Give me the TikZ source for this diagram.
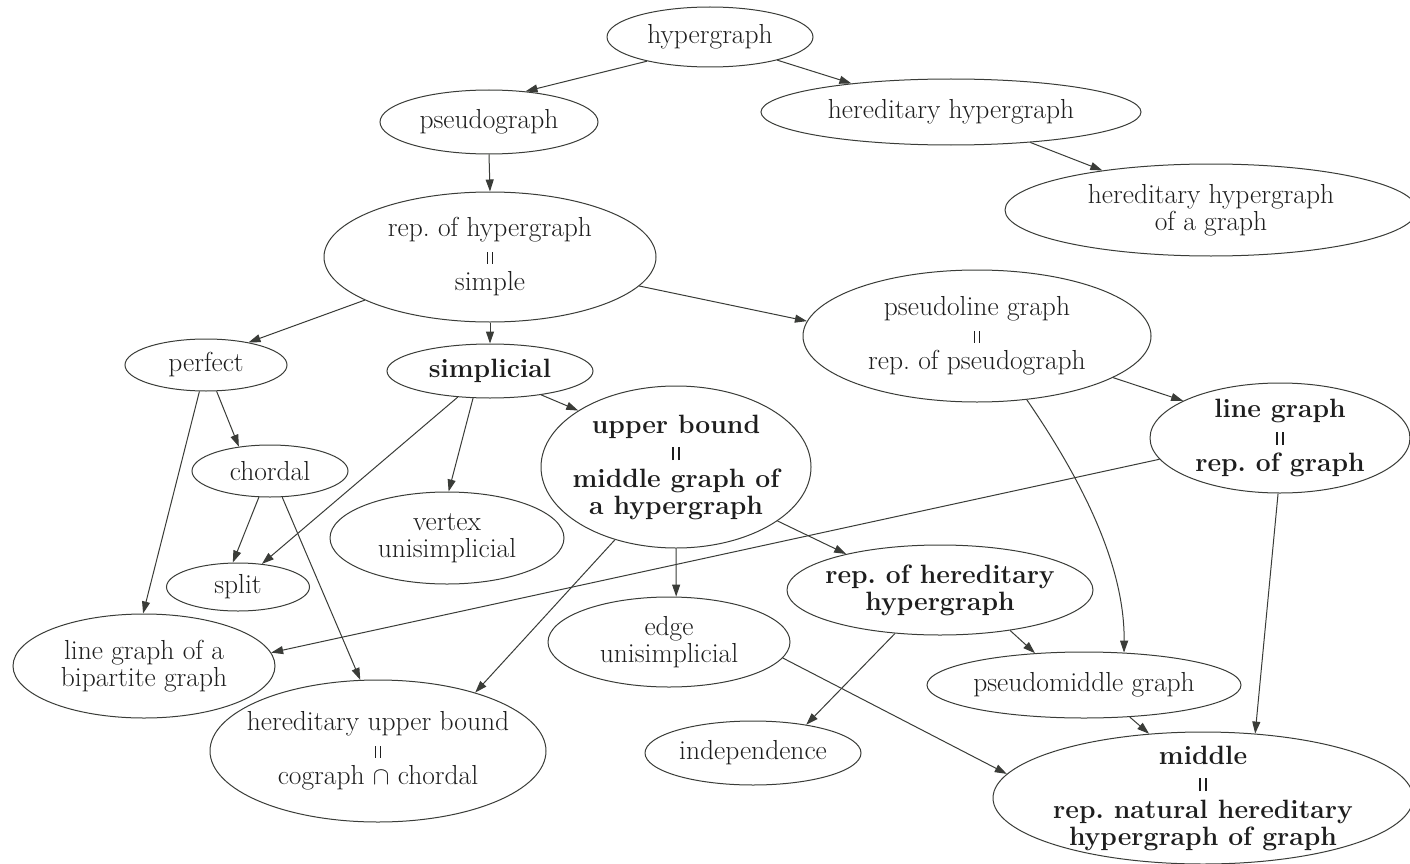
\documentclass[tikz,border=0pt]{standalone}
\usepackage{fontspec}
\usetikzlibrary{shapes.geometric,arrows.meta}
\definecolor{edgec}{HTML}{3A3C38}
\definecolor{textc}{HTML}{1E1E1E}
\newcommand{\veq}{\rule{1.2pt}{12pt}\hspace{4pt}\rule{1.2pt}{12pt}}
\newcommand{\veqb}{\rule{2.6pt}{13pt}\hspace{3.5pt}\rule{2.6pt}{13pt}}
\frenchspacing
\tikzset{
  shp/.style={ellipse, draw=edgec, line width=1pt, inner sep=0pt},
  txt/.style={align=center, text=textc, inner sep=0pt, font=\fontsize{27.5}{27}\selectfont},
  txtb/.style={align=center, text=textc, inner sep=0pt, font=\fontsize{26.5}{27}\selectfont\bfseries},
  rg/.style={label={[txt]center:{#1}}},
  bd/.style={label={[txtb]center:{#1}}},
  e/.style={draw=edgec, line width=1pt, -{Triangle[length=12pt,width=8pt]}}
}
\begin{document}
\begin{tikzpicture}[x=1pt,y=-1pt]
\clip (0,0) rectangle (1410,864);
\fill[white] (0,0) rectangle (1410,864);
% nodes
\node[shp, minimum width=206pt, minimum height=60pt, rg={hypergraph}] (hyper) at (710,37) {};
\node[shp, minimum width=380pt, minimum height=66pt, rg={hereditary hypergraph}] (hh) at (951,112) {};
\node[shp, minimum width=218pt, minimum height=64pt, rg={pseudograph}] (pseudo) at (489,122) {};
\node[shp, minimum width=412pt, minimum height=92pt, rg={hereditary hypergraph\\of a graph}] (hhg) at (1211,210) {};
\node[shp, minimum width=332pt, minimum height=130pt, rg={rep. of hypergraph\\\veq\\simple}] (rep) at (490,257) {};
\node[shp, minimum width=162pt, minimum height=52pt, rg={perfect}] (perfect) at (206,365) {};
\node[shp, minimum width=206pt, minimum height=54pt, bd={simplicial}] (simp) at (490,371) {};
\node[shp, minimum width=348pt, minimum height=132pt, rg={pseudoline graph\\\veq\\rep. of pseudograph}] (pl) at (977,336) {};
\node[shp, minimum width=156pt, minimum height=52pt, rg={chordal}] (chordal) at (270,471) {};
\node[shp, minimum width=270pt, minimum height=162pt, bd={upper bound\\\veqb\\middle graph of\\a hypergraph}] (ub) at (676,467) {};
\node[shp, minimum width=260pt, minimum height=110pt, bd={line graph\\\veqb\\rep. of graph}] (lg) at (1280,438) {};
\node[shp, minimum width=234pt, minimum height=92pt, rg={vertex\\unisimplicial}] (vu) at (447,538) {};
\node[shp, minimum width=143pt, minimum height=48pt, rg={split}] (split) at (238,587) {};
\node[shp, minimum width=306pt, minimum height=90pt, bd={rep. of hereditary\\hypergraph}] (rh) at (940,590) {};
\node[shp, minimum width=242pt, minimum height=90pt, rg={edge\\unisimplicial}] (eu) at (669,642) {};
\node[shp, minimum width=262pt, minimum height=104pt, rg={line graph of a\\bipartite graph}] (lgb) at (144,666) {};
\node[shp, minimum width=314pt, minimum height=66pt, rg={pseudomiddle graph}] (pm) at (1084,685) {};
\node[shp, minimum width=336pt, minimum height=142pt, rg={hereditary upper bound\\\veq\\cograph $\cap$ chordal}] (hub) at (378,751) {};
\node[shp, minimum width=216pt, minimum height=64pt, rg={independence}] (ind) at (753,753) {};
\node[shp, minimum width=420pt, minimum height=132pt, bd={middle\\\veqb\\rep. natural hereditary\\hypergraph of graph}] (mid) at (1203,798) {};
% edges
\draw[e] (hyper.201) -- (pseudo.40);
\draw[e] (hyper.341) -- (hh.164.5);
\draw[e] (hh.-21.4) -- (hhg.160.6);
\draw[e] (pseudo.-90) -- (rep.90);
\draw[e] (rep.199.5) -- (perfect.28);
\draw[e] (rep.-90) -- (simp.90);
\draw[e] (rep.-11.5) -- (pl.175);
\draw[e] (pl.-17.3) -- (lg.159.6);
\draw[e] (pl.-52) .. controls (1075,470) and (1125,560) .. (pm.39);
\draw[e] (perfect.-68.5) -- (chordal.142);
\draw[e] (perfect.-104) -- (lgb.91);
\draw[e] (simp.-25.6) -- (ub.150.6);
\draw[e] (simp.219.3) -- (split.44);
\draw[e] (simp.238) -- (vu.88.8);
\draw[e] (chordal.-113) -- (split.102);
\draw[e] (chordal.-65) -- (hub.104);
\draw[e] (ub.-28.4) -- (rh.159);
\draw[e] (ub.-90) -- (eu.81);
\draw[e] (ub.230) -- (hub.31.7);
\draw[e] (lg.190.6) -- (lgb.6.3);
\draw[e] (lg.-92) -- (mid.51.6);
\draw[e] (rh.-30.3) -- (pm.147.5);
\draw[e] (rh.224) -- (ind.28.5);
\draw[e] (eu.-8.5) -- (mid.173.9);
\draw[e] (pm.-35.4) -- (mid.130);
\end{tikzpicture}
\end{document}
